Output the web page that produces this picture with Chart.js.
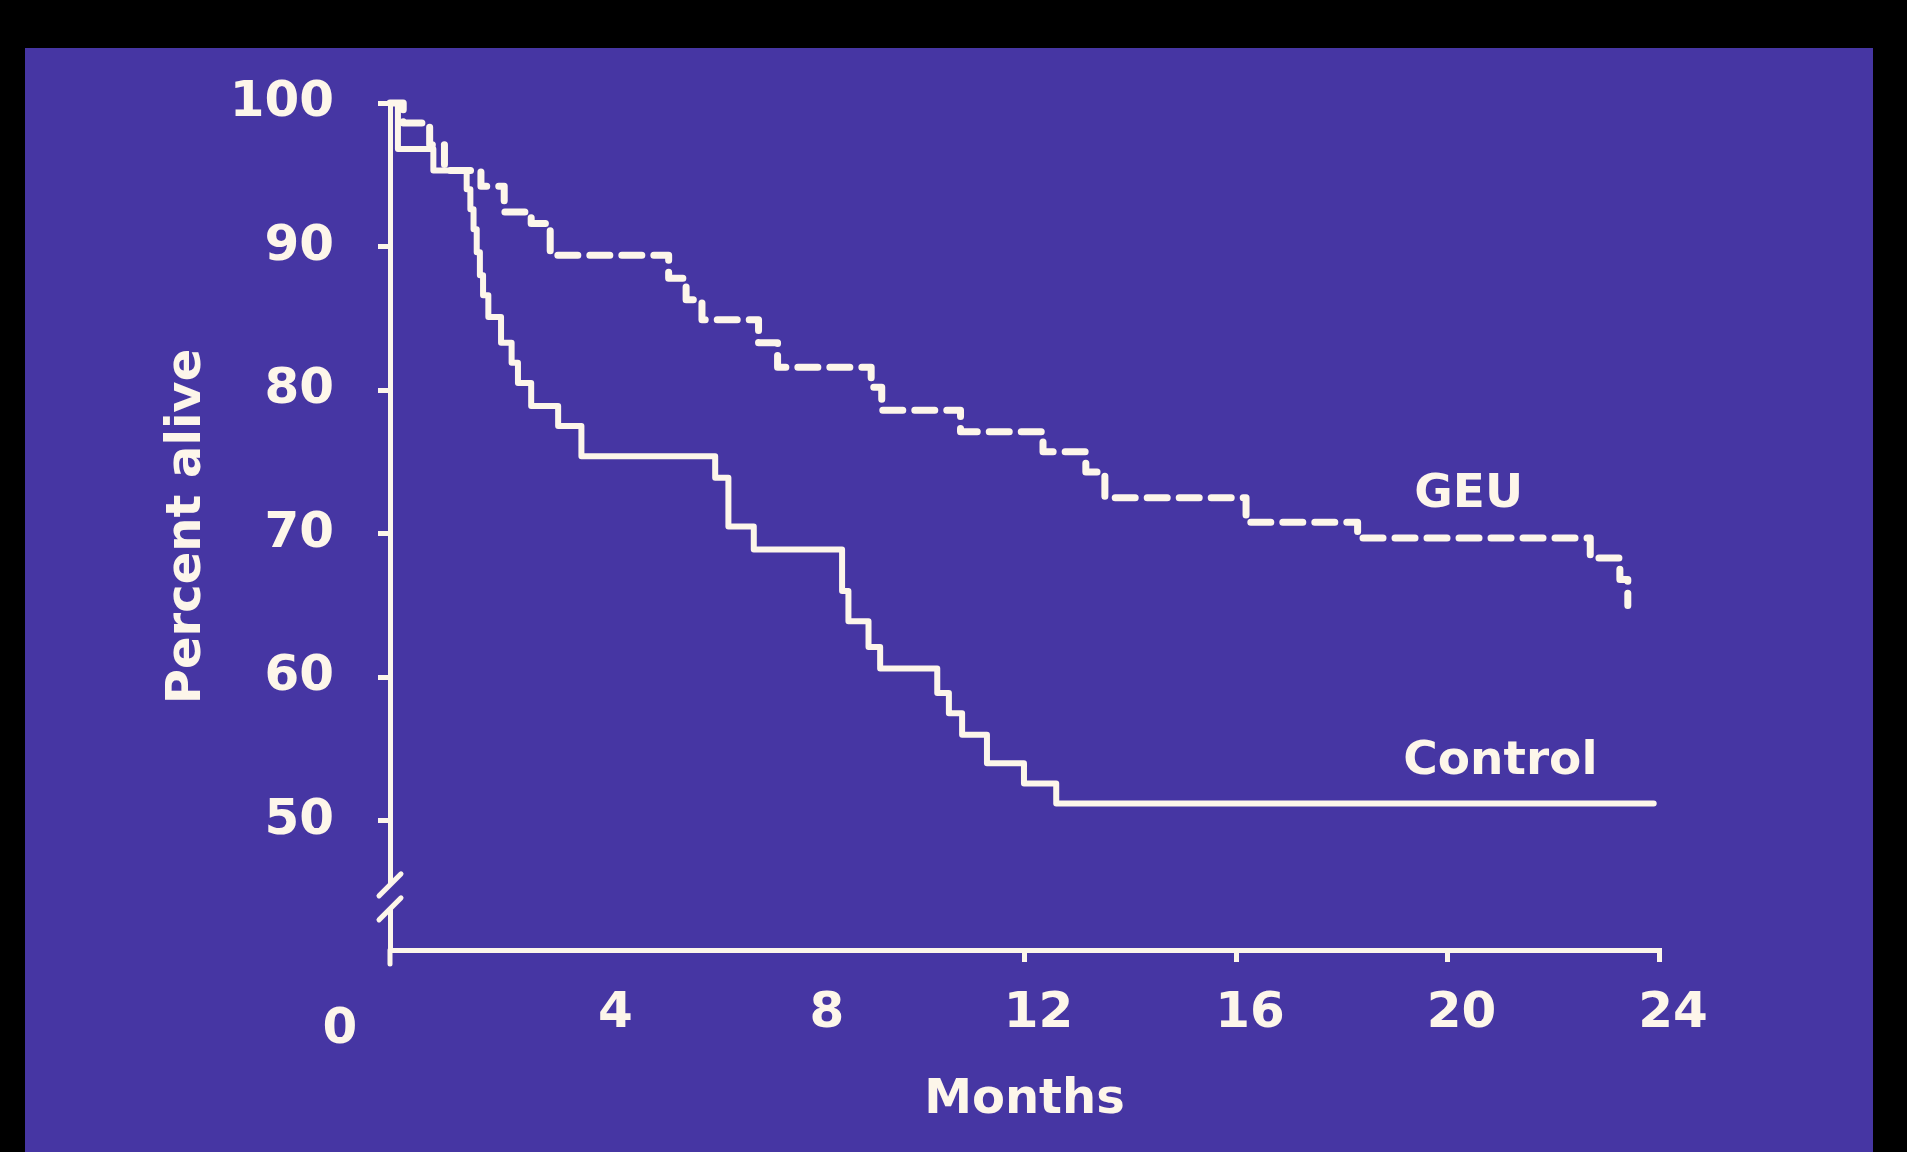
<!DOCTYPE html>
<html><head><meta charset="utf-8">
<script src="https://cdn.jsdelivr.net/npm/chart.js@4.4.1/dist/chart.umd.min.js"></script>
<style>
html,body{margin:0;padding:0;background:#000;width:1907px;height:1152px;overflow:hidden;}
#slide{position:absolute;left:25px;top:48px;width:1848px;height:1104px;background:#4636a3;}
#c{position:absolute;left:0;top:0;}
</style></head><body>
<div id="slide"></div>
<canvas id="c" width="1907" height="1152"></canvas>
<script>
// ---- data ----
const xTickValues = [0, 4, 8, 12, 16, 20, 24];
const yTickValues = [50, 60, 70, 80, 90, 100];
const seriesNames = ['GEU', 'Control'];
const xTitle = 'Months';
const yTitle = 'Percent alive';

const geuMonths  = [0, 0.25, 0.75, 1.03, 1.72, 2.16, 2.67, 3.03, 5.27, 5.60, 5.90, 6.97, 7.33, 9.10, 9.30, 10.79, 12.35, 13.16, 13.52, 16.19, 18.30, 22.70, 23.26, 23.41];
const geuPercent = [100, 98.6, 97.1, 95.3, 94.2, 92.4, 91.6, 89.4, 87.8, 86.3, 84.9, 83.3, 81.6, 80.2, 78.6, 77.1, 75.7, 74.3, 72.5, 70.8, 69.7, 68.3, 66.8, 65.0];

const controlMonths  = [0, 0.15, 0.82, 1.45, 1.52, 1.58, 1.64, 1.70, 1.76, 1.86, 2.10, 2.30, 2.42, 2.67, 3.18, 3.62, 6.15, 6.40, 6.88, 8.55, 8.67, 9.05, 9.27, 10.35, 10.57, 10.82, 11.29, 11.99, 12.60, 23.90];
const controlPercent = [100, 96.8, 95.3, 94.0, 92.6, 91.2, 89.6, 88.0, 86.6, 85.1, 83.3, 81.9, 80.5, 78.9, 77.5, 75.4, 73.9, 70.5, 68.9, 66.0, 63.9, 62.1, 60.6, 58.9, 57.5, 56.0, 54.0, 52.6, 51.2, 51.2];

// label anchors in data space (month, percent)
const labelAnchorMonths = [20.4, 21.0];
const labelAnchorPercents = [72.7, 54.1];

// ---- styles ----
const CREAM = '#fdf6ea';
const FONT = 'DejaVu Sans';

const toPoints = (xs, ys) => xs.map((x, i) => ({x: x, y: ys[i]}));

const slidePlugin = {
  id: 'slideExtras',
  afterDraw(chart) {
    const ctx = chart.ctx;
    const ca = chart.chartArea;
    const xs = chart.scales.x;
    const ys = chart.scales.y;
    ctx.save();
    ctx.strokeStyle = CREAM;
    ctx.lineWidth = 5;
    ctx.lineCap = 'round';
    // axis extension below x axis
    ctx.beginPath();
    ctx.moveTo(ca.left, ca.bottom);
    ctx.lineTo(ca.left, ca.bottom + 14);
    ctx.stroke();
    // axis break "//"
    const yb = ys.getPixelForValue(44.7);
    ctx.clearRect(ca.left - 5, yb - 12, 10, 24);
    [-12, 12].forEach(d => {
      ctx.beginPath();
      ctx.moveTo(ca.left - 11, yb + d + 11);
      ctx.lineTo(ca.left + 11, yb + d - 11);
      ctx.stroke();
    });
    // corner "0" label
    ctx.fillStyle = CREAM;
    ctx.font = 'bold 50px "' + FONT + '"';
    ctx.textAlign = 'center';
    ctx.textBaseline = 'middle';
    ctx.fillText(String(xTickValues[0]), xs.getPixelForValue(0) - 50, ca.bottom + 80);
    // series labels
    ctx.font = 'bold 47px "' + FONT + '"';
    seriesNames.forEach((name, i) => {
      ctx.fillText(name, xs.getPixelForValue(labelAnchorMonths[i]), ys.getPixelForValue(labelAnchorPercents[i]));
    });
    ctx.restore();
  }
};

new Chart(document.getElementById('c'), {
  type: 'line',
  data: {
    datasets: [
      {
        label: seriesNames[0],
        data: toPoints(geuMonths, geuPercent),
        stepped: 'before',
        borderColor: CREAM,
        borderWidth: 7,
        borderDash: [20, 12],
        borderCapStyle: 'round',
        borderJoinStyle: 'round',
        pointRadius: 0,
        fill: false,
        clip: 14
      },
      {
        label: seriesNames[1],
        data: toPoints(controlMonths, controlPercent),
        stepped: 'before',
        borderColor: CREAM,
        borderWidth: 6,
        borderCapStyle: 'round',
        borderJoinStyle: 'round',
        pointRadius: 0,
        fill: false,
        clip: 14
      }
    ]
  },
  options: {
    responsive: false,
    animation: false,
    layout: {padding: {left: 0, right: 248, top: 103, bottom: 23}},
    plugins: {legend: {display: false}, tooltip: {enabled: false}},
    scales: {
      x: {
        type: 'linear',
        min: 0, max: 24,
        afterBuildTicks: s => { s.ticks = xTickValues.map(v => ({value: v})); },
        afterFit: s => { s.height = 179; },
        border: {display: true, color: CREAM, width: 5},
        grid: {
          drawOnChartArea: false, drawTicks: true, tickLength: 12, lineWidth: 5,
          color: c => (c.tick && c.tick.value >= 12) ? CREAM : 'rgba(0,0,0,0)'
        },
        ticks: {
          color: CREAM, font: {family: FONT, size: 50, weight: 'bold'},
          padding: 22, labelOffset: 14, maxRotation: 0, autoSkip: false,
          callback: v => (v === 0 ? '' : String(v))
        },
        title: {display: true, text: xTitle, color: CREAM,
          font: {family: FONT, size: 48, weight: 'bold'}, padding: {top: 0, bottom: 0}}
      },
      y: {
        type: 'linear',
        min: 41, max: 100,
        afterBuildTicks: s => { s.ticks = yTickValues.map(v => ({value: v})); },
        afterFit: s => { s.width = 390; },
        border: {display: true, color: CREAM, width: 5},
        grid: {drawOnChartArea: false, drawTicks: true, tickLength: 12, lineWidth: 5, color: CREAM},
        ticks: {color: CREAM, font: {family: FONT, size: 50, weight: 'bold'}, padding: 44},
        title: {display: true, text: yTitle, color: CREAM,
          font: {family: FONT, size: 48, weight: 'bold'}, padding: {top: 159, bottom: 0}}
      }
    }
  },
  plugins: [slidePlugin]
});
</script>
</body></html>
